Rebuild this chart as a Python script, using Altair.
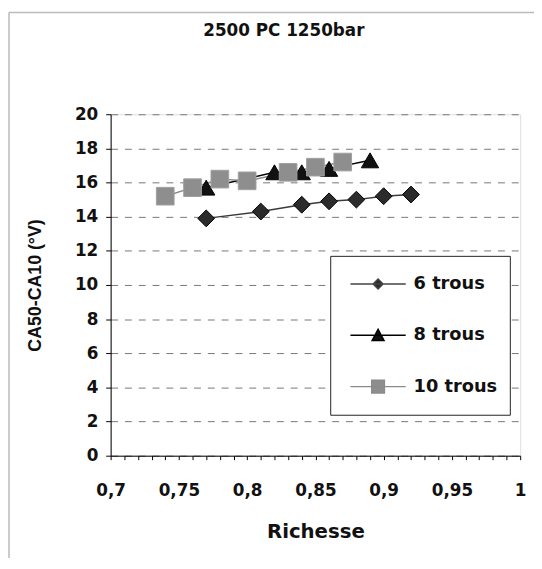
import altair as alt
import pandas as pd

# ---- data ----
x6 = [0.77, 0.81, 0.84, 0.86, 0.88, 0.90, 0.92]
y6 = [13.9, 14.3, 14.7, 14.9, 15.0, 15.2, 15.3]
x8 = [0.77, 0.82, 0.84, 0.86, 0.89]
y8 = [15.7, 16.6, 16.6, 16.8, 17.3]
x10 = [0.74, 0.76, 0.78, 0.80, 0.83, 0.85, 0.87]
y10 = [15.2, 15.7, 16.2, 16.1, 16.6, 16.9, 17.2]
series = ["6 trous", "8 trous", "10 trous"]
x_ticks = [round(0.70 + 0.01 * i, 2) for i in range(31)]
y_ticks = list(range(0, 21, 2))

rows = []
for name, xs, ys in [("6 trous", x6, y6), ("8 trous", x8, y8), ("10 trous", x10, y10)]:
    for i, (a, b) in enumerate(zip(xs, ys)):
        rows.append({"series": name, "x": a, "y": b, "order": i})
df = pd.DataFrame(rows)

FONT = "DejaVu Sans"
line_colors = ["#3a3a3a", "#000000", "#8a8a8a"]
marker_fill = ["#2b2b2b", "#111111", "#8e8e8e"]
marker_stroke = ["#000000", "#000000", "#a0a0a0"]
shapes = ["diamond", "triangle-up", "square"]

legend_paths = [
    "M-1.4,0H1.4M0,-0.25L0.25,0L0,0.25L-0.25,0Z",
    "M-1.4,0H1.4M-0.3,0.26L0.3,0.26L0,-0.3Z",
    "M-1.4,0H1.4M-0.32,-0.32H0.32V0.32H-0.32Z",
]

xscale = alt.Scale(domain=[0.7, 1.0], nice=False, zero=False)
yscale = alt.Scale(domain=[0, 20], nice=False)

xaxis = alt.Axis(
    values=x_ticks,
    labelExpr="abs(datum.value*20 - round(datum.value*20)) < 0.001 ? replace(format(datum.value, '.2~f'), '.', ',') : ''",
    title="Richesse",
    grid=False,
    tickSize=4,
    labelPadding=23,
    titlePadding=24,
    labelFont=FONT, labelFontSize=17, labelFontWeight="bold", labelColor="#111",
    titleFont=FONT, titleFontSize=20, titleFontWeight="bold", titleColor="#111",
    domainColor="#000", tickColor="#000", labelFlush=False, labelOverlap=False,
)
yaxis = alt.Axis(
    values=y_ticks,
    title="CA50-CA10 (°V)",
    grid=True, gridDash=[7, 7], gridColor="#777", gridWidth=1,
    tickSize=5, labelPadding=8, titlePadding=30, labelOverlap=False,
    labelFont=FONT, labelFontSize=17, labelFontWeight="bold", labelColor="#111",
    titleFont="Liberation Sans", titleFontSize=18, titleFontWeight="bold", titleColor="#111",
    domainColor="#000", tickColor="#000",
)

X = alt.X("x:Q", scale=xscale, axis=xaxis)
Y = alt.Y("y:Q", scale=yscale, axis=yaxis)

base = alt.Chart(df)

lines = base.mark_line(strokeWidth=1.5).encode(
    x=X, y=Y,
    stroke=alt.Stroke("series:N", scale=alt.Scale(domain=series, range=line_colors), legend=None),
    detail="series:N",
    order="order:Q",
)

points = base.mark_point(filled=True, strokeWidth=1, opacity=1).encode(
    x=X, y=Y,
    shape=alt.Shape("series:N", scale=alt.Scale(domain=series, range=shapes), legend=None),
    fill=alt.Fill("series:N", scale=alt.Scale(domain=series, range=marker_fill), legend=None),
    stroke=alt.Stroke("series:N", scale=alt.Scale(domain=series, range=marker_stroke), legend=None),
    size=alt.Size("series:N", scale=alt.Scale(domain=series, range=[290, 320, 280]), legend=None),
)

legend_box = alt.Chart(pd.DataFrame({"a": [0]})).mark_rect(
    fill="white", stroke="#222", strokeWidth=1
).encode(
    x=alt.value(223), x2=alt.value(405), y=alt.value(144), y2=alt.value(305)
)

legend_layer = base.transform_filter("false").mark_point(
    filled=True, strokeWidth=1.5, opacity=1
).encode(
    x=X, y=Y,
    shape=alt.Shape("series:N", scale=alt.Scale(domain=series, range=legend_paths),
                    legend=alt.Legend(
                        title=None, orient="none", legendX=250, legendY=151,
                        padding=0, rowPadding=22, labelOffset=15,
                        symbolSize=1600, symbolStrokeWidth=1.5,
                        labelFont=FONT, labelFontSize=18, labelFontWeight="bold",
                        labelColor="#111",
                    )),
    fill=alt.Fill("series:N", scale=alt.Scale(domain=series, range=marker_fill)),
    stroke=alt.Stroke("series:N", scale=alt.Scale(domain=series, range=["#444444", "#000000", "#8a8a8a"])),
)

frame = alt.Chart(pd.DataFrame({"a": [0]})).mark_rule(color="#bbbbbb", strokeWidth=1.5).encode(
    x=alt.value(-103), x2=alt.value(430), y=alt.value(-103)
)
frame2 = alt.Chart(pd.DataFrame({"a": [0]})).mark_rule(color="#bbbbbb", strokeWidth=1.5).encode(
    x=alt.value(-103), y=alt.value(-103), y2=alt.value(452)
)

chart = alt.layer(lines, points, frame, frame2, legend_box, legend_layer).resolve_scale(
    shape="independent", fill="independent", stroke="independent", size="independent"
).properties(
    width=415, height=346,
    autosize=alt.AutoSizeParams(type="none"),
    padding={"left": 104, "top": 104, "right": 14, "bottom": 100},
    title=alt.TitleParams("2500 PC 1250bar", font=FONT, fontSize=17, fontWeight="bold",
                          color="#111", anchor="middle", dx=-32, offset=0, dy=28),
).configure_view(stroke="#888", strokeWidth=1).configure(background="white")

chart.save("out.html", embed_options={"renderer": "svg", "actions": False})
